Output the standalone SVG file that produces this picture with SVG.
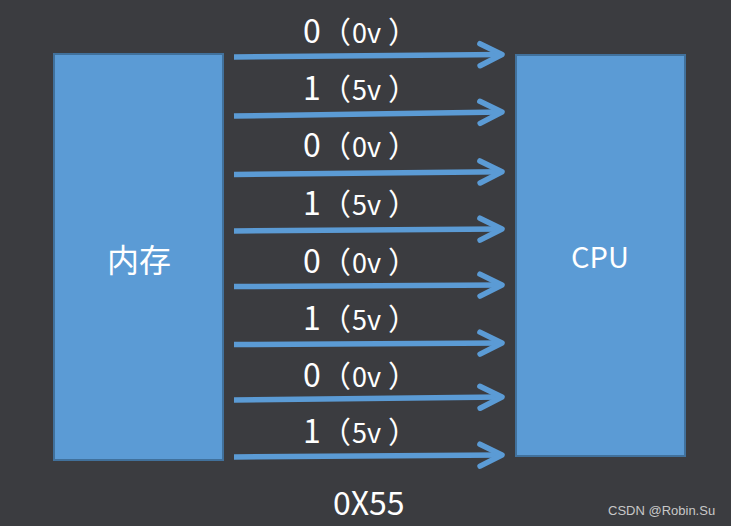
<svg xmlns="http://www.w3.org/2000/svg" width="731" height="526" viewBox="0 0 731 526">
<defs>
<style>
.box{fill:#5b9bd5;stroke:#41719c;stroke-width:2}
.wire{fill:none;stroke:#5b9bd5;stroke-width:5.5}
.head{fill:none;stroke:#5b9bd5;stroke-width:5.5;stroke-linecap:round;stroke-linejoin:round}
.lbl{fill:#ffffff;font-family:"Noto Sans CJK SC","Noto Sans",sans-serif}
.big{font-size:32px}
.sm{font-size:27px}
.par{font-size:30px}
.node{fill:#ffffff;font-family:"Noto Sans CJK SC","Noto Sans",sans-serif;text-anchor:middle}
</style>
<marker id="arr" markerUnits="userSpaceOnUse" markerWidth="40" markerHeight="40" refX="0" refY="0" viewBox="-30 -20 40 40" orient="auto" overflow="visible">
<path class="head" d="M-22,-11 L0,0 L-22,11"/>
</marker>
</defs>
<rect x="0" y="0" width="731" height="526" fill="#3b3c40"/>
<g id="memory">
<rect class="box" x="54" y="54" width="169" height="406"/>
<text class="node" x="139" y="272" font-size="32">内存</text>
</g>
<g id="cpu">
<rect class="box" x="516" y="55" width="169" height="401"/>
<text class="node" x="600" y="268" font-size="29">CPU</text>
</g>
<g id="connectors">
<path class="wire" marker-end="url(#arr)" d="M234,57 L502,54.5"/>
<path class="wire" marker-end="url(#arr)" d="M234,116 L502,112"/>
<path class="wire" marker-end="url(#arr)" d="M234,174.5 L502,171.7"/>
<path class="wire" marker-end="url(#arr)" d="M234,231 L502,229"/>
<path class="wire" marker-end="url(#arr)" d="M234,286.5 L502,285"/>
<path class="wire" marker-end="url(#arr)" d="M234,344.5 L502,343"/>
<path class="wire" marker-end="url(#arr)" d="M234,400 L502,397"/>
<path class="wire" marker-end="url(#arr)" d="M234,457 L502,455"/>
</g>
<g id="labels">
<text class="lbl" y="43"><tspan class="big" x="303">0</tspan><tspan class="par" x="321">（</tspan><tspan class="sm" x="352">0v</tspan><tspan class="par" x="388">）</tspan></text>
<text class="lbl" y="100"><tspan class="big" x="303">1</tspan><tspan class="par" x="321">（</tspan><tspan class="sm" x="352">5v</tspan><tspan class="par" x="388">）</tspan></text>
<text class="lbl" y="157"><tspan class="big" x="303">0</tspan><tspan class="par" x="321">（</tspan><tspan class="sm" x="352">0v</tspan><tspan class="par" x="388">）</tspan></text>
<text class="lbl" y="215"><tspan class="big" x="303">1</tspan><tspan class="par" x="321">（</tspan><tspan class="sm" x="352">5v</tspan><tspan class="par" x="388">）</tspan></text>
<text class="lbl" y="273"><tspan class="big" x="303">0</tspan><tspan class="par" x="321">（</tspan><tspan class="sm" x="352">0v</tspan><tspan class="par" x="388">）</tspan></text>
<text class="lbl" y="330"><tspan class="big" x="303">1</tspan><tspan class="par" x="321">（</tspan><tspan class="sm" x="352">5v</tspan><tspan class="par" x="388">）</tspan></text>
<text class="lbl" y="387"><tspan class="big" x="303">0</tspan><tspan class="par" x="321">（</tspan><tspan class="sm" x="352">0v</tspan><tspan class="par" x="388">）</tspan></text>
<text class="lbl" y="443"><tspan class="big" x="303">1</tspan><tspan class="par" x="321">（</tspan><tspan class="sm" x="352">5v</tspan><tspan class="par" x="388">）</tspan></text>
<text class="lbl big" x="333" y="515">0X55</text>
</g>
<text x="608" y="515" font-family="Liberation Sans, Arial, sans-serif" font-size="13" fill="#c8c8c8">CSDN @Robin.Su</text>
</svg>
